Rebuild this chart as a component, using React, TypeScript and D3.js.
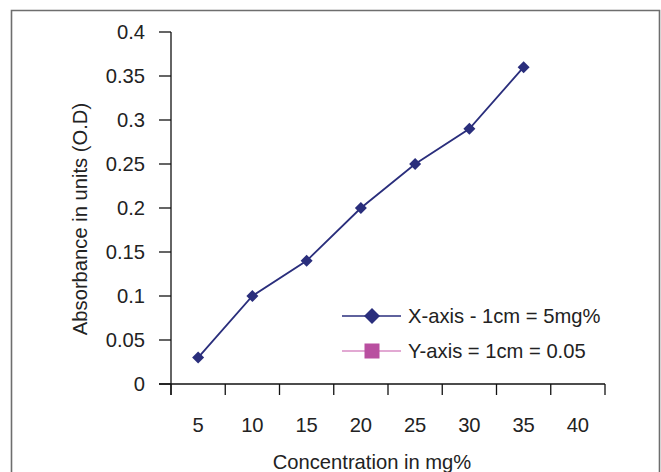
import React from "react";
import * as d3 from "d3";

const categories = ["5", "10", "15", "20", "25", "30", "35", "40"];
const absorbance: (number | null)[] = [0.03, 0.1, 0.14, 0.2, 0.25, 0.29, 0.36, null];
const yTicks = [0, 0.05, 0.1, 0.15, 0.2, 0.25, 0.3, 0.35, 0.4];
const legendLabels = ["X-axis - 1cm = 5mg%", "Y-axis = 1cm = 0.05"];
const xTitle = "Concentration in mg%";
const yTitle = "Absorbance in units (O.D)";

const W = 661;
const H = 472;
const navy = "#2A2E7C";
const pink = "#B94FA0";
const pinkLine = "#D98CC4";
const font = "Liberation Sans, Arial, sans-serif";
const FS = 20.2;

export default function App() {
  const x = d3.scaleBand<string>().domain(categories).range([171, 605]).padding(0);
  const y = d3.scaleLinear().domain([0, 0.4]).range([384, 32]);
  const pts = categories
    .map((c, i) => ({ c, v: absorbance[i] }))
    .filter((d) => d.v !== null) as { c: string; v: number }[];
  const line = d3
    .line<{ c: string; v: number }>()
    .x((d) => (x(d.c) as number) + x.bandwidth() / 2)
    .y((d) => y(d.v));
  const diamond = (cx: number, cy: number, r: number) =>
    `M${cx},${cy - r}L${cx + r},${cy}L${cx},${cy + r}L${cx - r},${cy}Z`;
  const tickXs = [...categories.map((c) => x(c) as number), 605];

  return (
    <svg
      width={W}
      height={H}
      style={{ position: "absolute", left: 0, top: 0, background: "#fff" }}
      fontFamily={font}
    >
      <rect x={0} y={0} width={W} height={H} fill="#fff" />
      <path d={`M11.5,${H}V10.5H659.5V${H}`} fill="none" stroke="#6e6e6e" strokeWidth={1.6} />
      {/* y axis */}
      <line x1={171} x2={171} y1={y(0.4)} y2={y(0) + 11} stroke="#111" strokeWidth={1.3} />
      {yTicks.map((t) => (
        <g key={t}>
          <line x1={159} x2={171} y1={y(t)} y2={y(t)} stroke="#111" strokeWidth={1.3} />
          <text x={145} y={y(t)} dy="0.35em" textAnchor="end" fontSize={FS} fill="#222">
            {String(t)}
          </text>
        </g>
      ))}
      {/* x axis */}
      <line x1={159} x2={605} y1={y(0)} y2={y(0)} stroke="#111" strokeWidth={1.3} />
      {tickXs.map((tx, i) => (
        <line key={i} x1={tx} x2={tx} y1={y(0)} y2={y(0) + 11} stroke="#111" strokeWidth={1.3} />
      ))}
      {categories.map((c) => (
        <text
          key={c}
          x={(x(c) as number) + x.bandwidth() / 2}
          y={425}
          dy="0.35em"
          textAnchor="middle"
          fontSize={FS}
          fill="#222"
        >
          {c}
        </text>
      ))}
      <text x={372} y={462} dy="0.35em" textAnchor="middle" fontSize={FS} fill="#222">
        {xTitle}
      </text>
      <text
        transform={`translate(80,219) rotate(-90)`}
        dy="0.35em"
        textAnchor="middle"
        fontSize={FS}
        fill="#222"
      >
        {yTitle}
      </text>
      {/* series */}
      <path d={line(pts) || ""} fill="none" stroke={navy} strokeWidth={1.8} />
      {pts.map((d) => (
        <path
          key={d.c}
          d={diamond((x(d.c) as number) + x.bandwidth() / 2, y(d.v), 6)}
          fill={navy}
        />
      ))}
      {/* legend */}
      <line x1={342} x2={401} y1={316} y2={316} stroke={navy} strokeWidth={1.6} />
      <path d={diamond(372, 316, 8)} fill={navy} />
      <text x={408} y={316} dy="0.35em" fontSize={FS} fill="#222">
        {legendLabels[0]}
      </text>
      <line x1={342} x2={401} y1={351} y2={351} stroke={pinkLine} strokeWidth={1.6} />
      <rect x={364.5} y={343.5} width={15} height={15} fill={pink} />
      <text x={408} y={351} dy="0.35em" fontSize={FS} fill="#222">
        {legendLabels[1]}
      </text>
    </svg>
  );
}
